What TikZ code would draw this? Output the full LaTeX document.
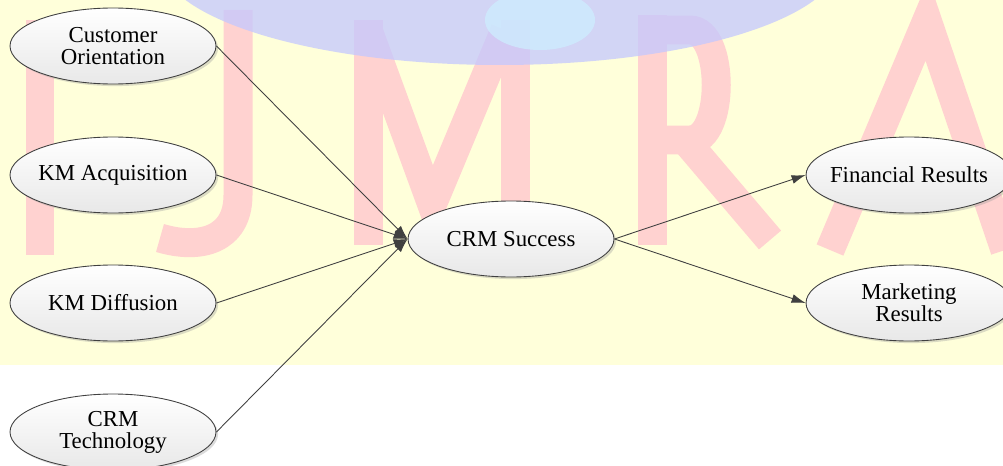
\documentclass[tikz,border=0pt]{standalone}
\usepackage{fontspec}
\setmainfont{Liberation Serif}
\usetikzlibrary{arrows.meta,shapes.geometric,shadows}
\definecolor{bgyellow}{RGB}{255,255,218}
\definecolor{wmred}{RGB}{255,210,208}
\definecolor{wmblue}{RGB}{196,200,255}
\definecolor{wmcyan}{RGB}{205,240,255}
\definecolor{edgegray}{RGB}{64,64,64}
\tikzset{
  oval/.style={ellipse, draw=edgegray, line width=0.5pt, top color=white, bottom color=black!9,
    minimum width=4.12cm, minimum height=1.52cm, inner xsep=-1cm, inner ysep=0pt, align=center,
    font=\fontsize{13}{12.5}\selectfont,
    drop shadow={shadow xshift=1.2pt, shadow yshift=-1.2pt, fill=black!40, opacity=0.35}},
  conn/.style={draw=edgegray, line width=0.5pt, -{Latex[length=0.28cm,width=0.18cm]}},
  wm/.style={draw=wmred, line width=0.58cm, line cap=butt, line join=miter}
}
\begin{document}
\begin{tikzpicture}[x=0.02cm,y=-0.02cm]
\useasboundingbox (0,0) rectangle (1003,466);
\begin{scope}
\clip (0,0) rectangle (1003,466);
% watermark background
\fill[bgyellow] (0,0) rectangle (1003,365);
\draw[wm] (40,20) -- (40,255);
\draw[wm] (238,10) -- (238,195) .. controls (238,240) and (200,250) .. (160,238);
\draw[wm] (368,20) -- (368,245);
\draw[wm] (368,30) -- (432,205) -- (505,30);
\draw[wm] (515,20) -- (515,245);
\draw[wm] (652,15) -- (652,245);
\draw[wm] (652,30) -- (690,30) .. controls (725,30) and (725,140) .. (690,140) -- (660,140);
\draw[wm] (685,140) -- (770,240);
\draw[wm] (830,250) -- (927,20) -- (1005,250);
\draw[wm] (870,170) -- (965,170);
\fill[wmblue, opacity=0.75] (500,-40) ellipse [x radius=340, y radius=105];
\fill[wmcyan, opacity=0.7] (540,20) ellipse [x radius=55, y radius=30];
\end{scope}
% nodes
\node[oval] (co) at (113,46) {Customer\\Orientation};
\node[oval] (ka) at (113,175) {KM Acquisition};
\node[oval] (kd) at (113,303) {KM Diffusion};
\node[oval] (ct) at (113,432) {CRM\\Technology};
\node[oval] (cs) at (511,239) {CRM Success};
\node[oval] (fr) at (909,175) {Financial Results};
\node[oval] (mr) at (909,303) {Marketing\\Results};
% connectors
\draw[conn] (co.east) -- (cs.west);
\draw[conn] (ka.east) -- (cs.west);
\draw[conn] (kd.east) -- (cs.west);
\draw[conn] (ct.east) -- (cs.west);
\draw[conn] (cs.east) -- (fr.west);
\draw[conn] (cs.east) -- (mr.west);
\end{tikzpicture}
\end{document}
